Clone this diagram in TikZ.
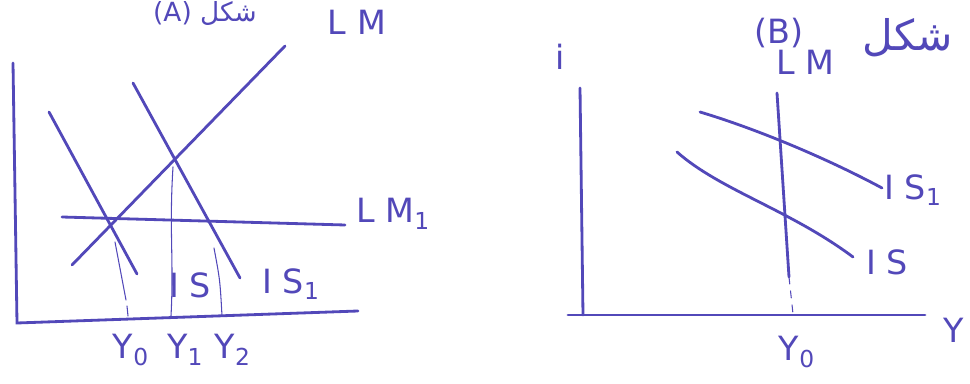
\documentclass[tikz,border=0pt]{standalone}
\usepackage{fontspec}
\setmainfont{DejaVu Sans}
\newfontfamily\arabicfont[Script=Arabic]{DejaVu Sans}
\TeXXeTstate=1
\usetikzlibrary{positioning,calc}
\definecolor{ink}{RGB}{82,72,185}

\begin{document}
\begin{tikzpicture}[x=0.02cm, y=-0.02cm,
    pen/.style={draw=ink, line width=1.6pt, line cap=round},
    guide/.style={draw=ink, line width=0.6pt, line cap=round},
    lbl/.style={text=ink, font=\fontsize{19}{22}\selectfont, inner sep=0pt}
  ]
    \useasboundingbox[fill=white] (0,0) rectangle (970,384);
    % left panel (A)
    \coordinate (ai) at (13,63);
    \coordinate (ao) at (17,323);
    \coordinate (ay) at (358,311);
    \draw[pen] (ai) -- (ao) -- (ay);
    \coordinate (lmS) at (72,265);
    \coordinate (lmN) at (285,46);
    \coordinate (lmaW) at (62,217);
    \coordinate (lmaE) at (345,225);
    \coordinate (isN) at (49,112);
    \coordinate (isS) at (137,274);
    \coordinate (isaN) at (133,83);
    \coordinate (isaS) at (240,278);
    \draw[pen] (lmS) -- (lmN);
    \draw[pen] (lmaW) -- (lmaE);
    \draw[pen] (isN) -- (isS);
    \draw[pen] (isaN) -- (isaS);
    \draw[guide] (115,242) -- (126,300) (127,306) -- (128,316);
    \draw[guide] (173,167) .. controls (169,230) and (174,260) .. (171,316);
    \draw[guide] (214,248) .. controls (220,280) .. (222,316);
    \node[lbl] (lmA) at (357,22) {L M};
    \node[lbl, anchor=west] (lmB) at (356,214) {L M\textsubscript{1}};
    \node[lbl] (isA) at (190,285) {I S};
    \node[lbl, anchor=west] (isB) at (262,284) {I S\textsubscript{1}};
    \node[lbl] (y0) at (131,350) {Y\textsubscript{0}};
    \node[lbl, right=10pt of y0.east, anchor=west] (y1) {Y\textsubscript{1}};
    \node[lbl, right=6pt of y1.east, anchor=west] (y2) {Y\textsubscript{2}};
    \node[lbl, anchor=north, font=\fontsize{15}{18}\selectfont] (capA) at (205,1) {(A) \arabicfont\beginR شكل\endR};
    % right panel (B)
    \coordinate (bi) at (580,88);
    \coordinate (bo) at (583,315);
    \coordinate (bw) at (568,315);
    \coordinate (by) at (925,315);
    \draw[pen] (bi) -- (bo);
    \draw[pen] (bw) -- (by);
    \coordinate (vlmN) at (777,93);
    \coordinate (vlmS) at (789,277);
    \draw[pen] (vlmN) -- (vlmS);
    \draw[guide, dash pattern=on 4pt off 4pt] (vlmS) -- (793,314);
    \coordinate (bisaW) at (700,112);
    \coordinate (bisaE) at (882,188);
    \coordinate (bisW) at (677,152);
    \coordinate (bisE) at (853,257);
    \draw[pen] (bisaW) .. controls (760,130) and (830,160) .. (bisaE);
    \draw[pen] (bisW) .. controls (720,190) and (790,210) .. (bisE);
    \node[lbl] (iax) at (560,57) {i};
    \node[lbl] (yax) at (954,330) {Y};
    \node[lbl] (by0) at (797,352) {Y\textsubscript{0}};
    \node[lbl] (capB) at (779,33) {(B)};
    \node[lbl, below right=1pt and -16pt of capB] (blm) {L M};
    \node[lbl, font=\fontsize{24}{28}\selectfont] (bar) at (908,38) {\arabicfont\beginR شكل\endR};
    \node[lbl, anchor=west] (bisB) at (884,190) {I S\textsubscript{1}};
    \node[lbl, anchor=west] (bisA) at (866,262) {I S};
  \end{tikzpicture}
\end{document}
